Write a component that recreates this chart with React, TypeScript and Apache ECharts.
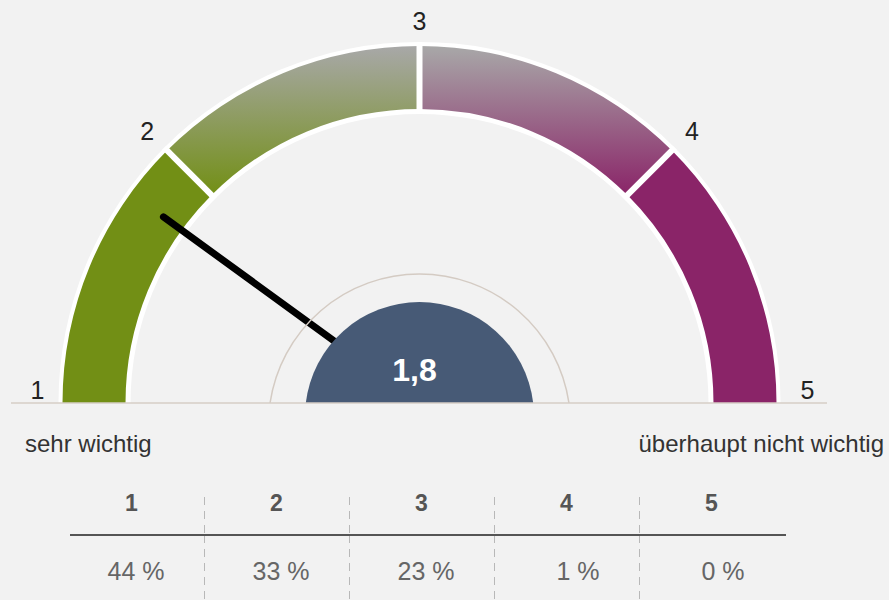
import React, { useEffect, useRef } from 'react';
import * as echarts from 'echarts';

// ---- data ----
const scaleMin = 1;
const scaleMax = 5;
const scaleTicks = [1, 2, 3, 4, 5];
const meanValue = [1.8];
const poleLabels = ['sehr wichtig', 'überhaupt nicht wichtig'];
const tableHeaders = ['1', '2', '3', '4', '5'];
const tableShares = [44, 33, 23, 1, 0];

// ---- layout / style ----
const CX = 419.5;
const CY = 403;
const FONT = '"Liberation Sans", Arial, Helvetica, sans-serif';
const GREEN = '#728f15';
const PURPLE = '#8a2468';
const GREY = '#a8a8a8';
const BLUE = '#475a76';

export default function App() {
  const ref = useRef<HTMLDivElement>(null);

  useEffect(() => {
    document.body.style.margin = '0';
    document.body.style.background = '#f2f2f2';
    const chart = echarts.init(ref.current!, null, { renderer: 'svg' });

    // central cap (circle segment cut by the baseline)
    const capR = 114.5;
    const capCy = 416.5;
    const capHalf = Math.sqrt(capR * capR - (capCy - CY) * (capCy - CY));
    const capPath = `M${CX - capHalf} ${CY} A${capR} ${capR} 0 0 1 ${CX + capHalf} ${CY} Z`;
    echarts.graphic.registerShape('centerCap', echarts.graphic.extendPath(capPath, {}) as any);

    const ringR = 151.1;
    const ringCy = 425.1;
    const ringDelta = Math.asin((ringCy - CY) / ringR);

    const grad = (c: string) =>
      new echarts.graphic.LinearGradient(0, 0, 0, 1, [
        { offset: 0, color: GREY },
        { offset: 1, color: c },
      ]);

    const nTicks = scaleTicks.length - 1;
    const hidden = {
      axisTick: { show: false },
      splitLine: { show: false, length: 0, distance: 0 },
      axisLabel: { show: false },
      pointer: { show: false },
      title: { show: false },
      detail: { show: false },
      anchor: { show: false },
      progress: { show: false },
    };

    const labelStyle = { fontSize: 25, color: '#222', fontFamily: FONT };
    const dashed = {
      show: true,
      showMinLine: false,
      showMaxLine: false,
      lineStyle: { type: [8, 6], color: '#b8b8b8', width: 1 },
    };

    const option: any = {
      animation: false,
      backgroundColor: '#f2f2f2',
      grid: [
        { left: 59, width: 725, top: 497, height: 38 },
        { left: 59, width: 725, top: 535, height: 65 },
      ],
      xAxis: [
        {
          gridIndex: 0,
          type: 'category',
          data: tableHeaders,
          position: 'bottom',
          axisLine: { show: false },
          axisTick: { show: false },
          axisLabel: {
            inside: true,
            margin: 21,
            fontSize: 23,
            fontWeight: 'bold',
            color: '#555',
            fontFamily: FONT,
          },
          splitLine: dashed,
        },
        {
          gridIndex: 1,
          type: 'category',
          data: tableShares.map((p) => `${p} %`),
          position: 'top',
          axisLine: { show: false },
          axisTick: { show: false },
          axisLabel: {
            inside: true,
            margin: 23,
            fontSize: 25,
            color: '#666',
            fontFamily: FONT,
            formatter: (v: string) => `{p|${v}}`,
            rich: {
              p: { width: 66, align: 'right', fontSize: 25, color: '#666', fontFamily: FONT },
            },
          },
          splitLine: dashed,
        },
      ],
      yAxis: [
        { gridIndex: 0, type: 'value', show: false },
        { gridIndex: 1, type: 'value', show: false },
      ],
      series: [
        // white backing band
        {
          type: 'gauge',
          z: 1,
          center: [CX, CY],
          radius: 361,
          startAngle: 180,
          endAngle: 0,
          min: scaleMin,
          max: scaleMax,
          splitNumber: nTicks,
          axisLine: { lineStyle: { width: 72, color: [[1, '#ffffff']] } },
          ...hidden,
          data: [],
        },
        // coloured band + needle
        {
          type: 'gauge',
          z: 2,
          center: [CX, CY],
          radius: 357,
          startAngle: 180,
          endAngle: 0,
          min: scaleMin,
          max: scaleMax,
          splitNumber: nTicks,
          axisLine: {
            lineStyle: {
              width: 63,
              color: [
                [0.25, GREEN],
                [0.5, grad(GREEN)],
                [0.75, grad(PURPLE)],
                [1, PURPLE],
              ],
            },
          },
          ...hidden,
          pointer: {
            show: true,
            length: 320,
            width: 7,
            icon: 'path://M0 320 M0 230 L0 3.5 A3.5 3.5 0 0 1 7 3.5 L7 230 Z',
            itemStyle: { color: '#000' },
          },
          data: meanValue.map((v) => ({ value: v })),
        },
        // white separators between bands
        {
          type: 'gauge',
          z: 3,
          center: [CX, CY],
          radius: 361,
          startAngle: 135,
          endAngle: 45,
          min: scaleTicks[1],
          max: scaleTicks[3],
          splitNumber: 2,
          axisLine: { show: false, lineStyle: { width: 0 } },
          ...hidden,
          splitLine: {
            show: true,
            length: 72,
            distance: 0,
            lineStyle: { color: '#ffffff', width: 6 },
          },
          data: [],
        },
        // scale labels
        {
          type: 'gauge',
          z: 3,
          center: [CX, CY],
          radius: 361,
          startAngle: 180,
          endAngle: 0,
          min: scaleMin,
          max: scaleMax,
          splitNumber: nTicks,
          axisLine: { show: false, lineStyle: { width: 0 } },
          ...hidden,
          axisLabel: {
            show: true,
            distance: -34,
            ...labelStyle,
            formatter: (v: number) => {
              if (v === scaleMin) return `{s|${v}}`;
              if (v === scaleMax) return `{e|${v}}`;
              if (v === 3) return `{t|${v}}`;
              return `{d|${v}}`;
            },
            rich: {
              s: { ...labelStyle, padding: [0, 0, 26, 6] },
              e: { ...labelStyle, padding: [0, 0, 26, 0] },
              d: { ...labelStyle, padding: [14, 0, 0, 0] },
              t: { ...labelStyle },
            },
          },
          data: [],
        },
        // value text
        {
          type: 'gauge',
          z: 20,
          center: [CX, CY],
          radius: 357,
          startAngle: 180,
          endAngle: 0,
          min: scaleMin,
          max: scaleMax,
          axisLine: { show: false },
          ...hidden,
          detail: {
            show: true,
            offsetCenter: [-5, -33],
            fontSize: 32,
            fontWeight: 'bold',
            color: '#ffffff',
            fontFamily: FONT,
            valueAnimation: false,
            formatter: (v: number) => v.toFixed(1).replace('.', ','),
          },
          data: meanValue.map((v) => ({ value: v })),
        },
      ],
      graphic: [
        {
          type: 'arc',
          z: 10,
          shape: {
            cx: CX,
            cy: ringCy,
            r: ringR,
            startAngle: Math.PI + ringDelta,
            endAngle: 2 * Math.PI - ringDelta,
            clockwise: true,
          },
          style: { stroke: '#d4cbc3', lineWidth: 1.5, fill: null },
          silent: true,
        },
        {
          type: 'centerCap',
          z: 11,
          style: { fill: BLUE },
          silent: true,
        },
        {
          type: 'line',
          z: 30,
          shape: { x1: 11, y1: CY, x2: 827, y2: CY },
          style: { stroke: '#d6cec6', lineWidth: 1.5 },
          silent: true,
        },
        {
          type: 'line',
          z: 30,
          shape: { x1: 70, y1: 535, x2: 786, y2: 535 },
          style: { stroke: '#555', lineWidth: 2 },
          silent: true,
        },
        {
          type: 'text',
          z: 30,
          x: 25,
          y: 443,
          style: {
            text: poleLabels[0],
            fontSize: 24,
            fill: '#333',
            fontFamily: FONT,
            align: 'left',
            verticalAlign: 'middle',
          },
        },
        {
          type: 'text',
          z: 30,
          x: 884,
          y: 443,
          style: {
            text: poleLabels[1],
            fontSize: 24,
            fill: '#333',
            fontFamily: FONT,
            align: 'right',
            verticalAlign: 'middle',
          },
        },
      ],
    };

    chart.setOption(option);
    return () => chart.dispose();
  }, []);

  return <div ref={ref} style={{ width: 889, height: 600 }} />;
}
